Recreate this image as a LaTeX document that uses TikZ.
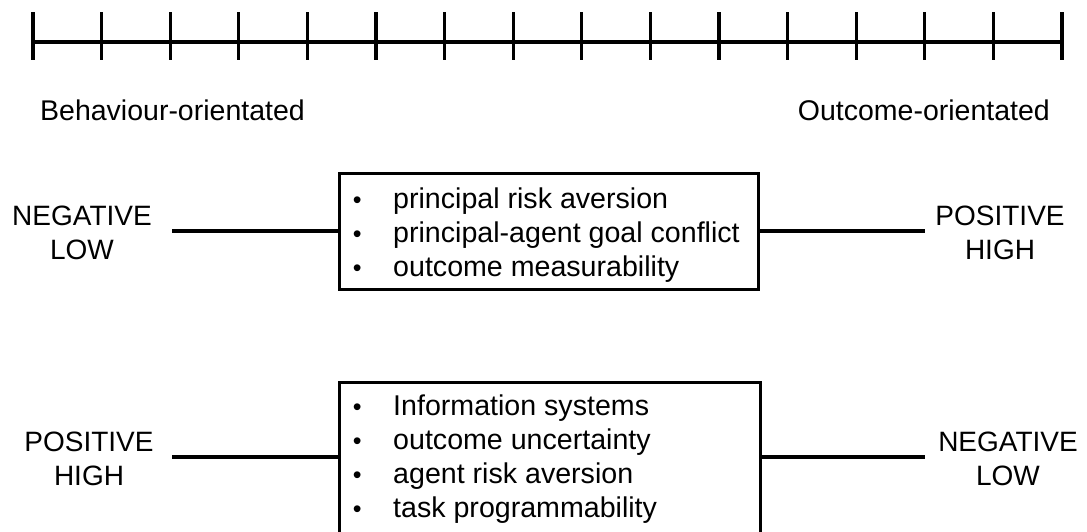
\documentclass[tikz,border=0pt]{standalone}
\usepackage{fontspec}
\setmainfont{Liberation Sans}
\usepackage{array}
\newcommand{\itemdot}{\makebox[10pt]{\fontsize{25}{25}\selectfont •}}
\begin{document}
\begin{tikzpicture}[x=1pt,y=-1pt,
  rule/.style={line width=3.1pt},
  frame/.style={draw, line width=3pt, inner sep=0pt, anchor=north west},
  caption/.style={font=\fontsize{28.5}{33.5}\selectfont, inner sep=0pt},
  pole/.style={font=\fontsize{28}{33.5}\selectfont, align=center, inner sep=0pt},
  items/.style={font=\fontsize{28.6}{34.2}\selectfont, inner sep=0pt, anchor=north west},
  link/.style={line width=3.1pt}]
\useasboundingbox (0,0) rectangle (1087,531);

% scale with sixteen ticks
\coordinate (s0) at (33,42);
\coordinate (s1) at (1062,42);
\draw[rule] (s0) -- (s1);
\foreach \i in {0,...,15}
  \draw[rule] (33+\i*68.6,12) -- (33+\i*68.6,60);

% ends of the scale
\node[caption, anchor=base west] (beh) at (40,120) {Behaviour-orientated};
\node[caption, anchor=base east] (out) at (1050,120) {Outcome-orientated};

% first group of factors
\node[frame, minimum width=419pt, minimum height=116pt] (box1) at (338,172) {};
\node[items] (list1) at (352,184) {%
  \begin{tabular}{@{}p{41pt}@{}l@{}}
  \itemdot & principal risk aversion\\
  \itemdot & principal-agent goal conflict\\
  \itemdot & outcome measurability
  \end{tabular}};

% second group of factors
\node[frame, minimum width=421pt, minimum height=152pt] (box2) at (338,381) {};
\node[items] (list2) at (352,391) {%
  \begin{tabular}{@{}p{41pt}@{}l@{}}
  \itemdot & Information systems\\
  \itemdot & outcome uncertainty\\
  \itemdot & agent risk aversion\\
  \itemdot & task programmability
  \end{tabular}};

% direction labels
\node[pole] (lt) at (82,233) {NEGATIVE\\LOW};
\node[pole] (rt) at (1000,233) {POSITIVE\\HIGH};
\node[pole] (lb) at (89,459) {POSITIVE\\HIGH};
\node[pole] (rb) at (1008,459) {NEGATIVE\\LOW};

% connectors between labels and boxes
\coordinate (e1l) at (172,231);
\coordinate (e1r) at (925,231);
\coordinate (e2l) at (172,457);
\coordinate (e2r) at (925,457);
\draw[link] (e1l) -- (e1l -| box1.west);
\draw[link] (e1l -| box1.east) -- (e1r);
\draw[link] (e2l) -- (e2l -| box2.west);
\draw[link] (e2l -| box2.east) -- (e2r);
\end{tikzpicture}
\end{document}
